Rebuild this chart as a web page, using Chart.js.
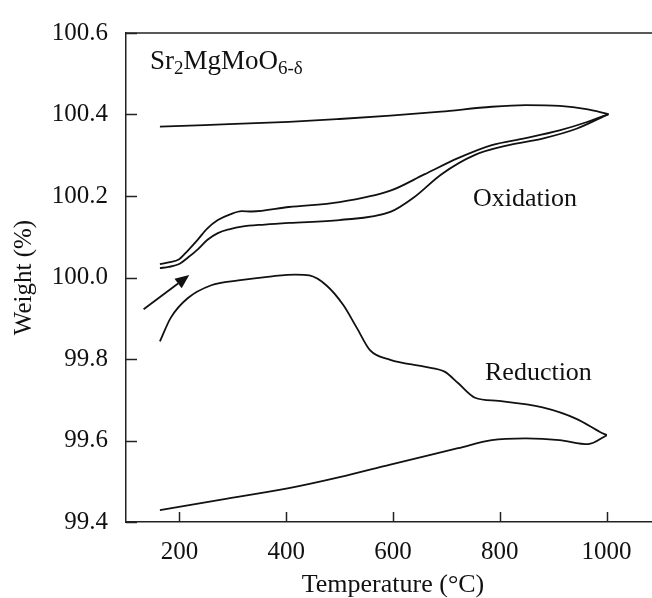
<!DOCTYPE html>
<html><head><meta charset="utf-8">
<script src="https://cdn.jsdelivr.net/npm/chart.js@4.4.0/dist/chart.umd.min.js"></script>
<style>
html,body{margin:0;padding:0;background:#fff;overflow:hidden;width:652px;height:598px}
#wrap{width:664px;height:598px}
</style>
</head><body><div id="wrap"><canvas id="c" width="664" height="598"></canvas></div>
<script>
// Tick values
const xTicks = [200, 400, 600, 800, 1000];
const yTicks = [99.4, 99.6, 99.8, 100.0, 100.2, 100.4, 100.6];

// Oxidation: cooling branch (top line)
const oxCoolT = [163.5, 247, 405, 500, 595, 690, 785, 848.5, 912, 962, 1003.5];
const oxCoolW = [100.370, 100.374, 100.382, 100.389, 100.397, 100.407, 100.419, 100.423, 100.421, 100.413, 100.401];

// Oxidation: heating, upper curve
const oxHeat1T = [163.5, 180, 199.6, 215, 234.5, 252, 272, 295, 316.7, 335.6, 405, 500, 595, 658.6, 721.8, 785, 848.5, 911.8, 962, 1003.5];
const oxHeat1W = [100.033, 100.037, 100.045, 100.065, 100.093, 100.120, 100.141, 100.155, 100.163, 100.162, 100.173, 100.185, 100.213, 100.253, 100.293, 100.325, 100.342, 100.361, 100.381, 100.401];

// Oxidation: heating, lower curve
const oxHeat2T = [163.5, 180, 199.6, 215, 234.5, 252, 272, 295, 316.7, 360, 405, 500, 595, 639.5, 690.3, 753.6, 816.9, 880, 943.5, 1003.5];
const oxHeat2W = [100.023, 100.026, 100.033, 100.048, 100.069, 100.092, 100.109, 100.119, 100.125, 100.130, 100.134, 100.141, 100.161, 100.197, 100.253, 100.301, 100.325, 100.341, 100.365, 100.401];

// Reduction: heating branch
const redHeatT = [163.5, 183.7, 215.4, 259.7, 310.3, 373.6, 418, 443.3, 475, 506.6, 532, 557.3, 595, 658.6, 696.5, 721.8, 753.6, 797.8, 880, 943.5, 987.6, 1000.4];
const redHeatW = [99.843, 99.901, 99.949, 99.981, 99.993, 100.003, 100.007, 100.005, 99.981, 99.933, 99.877, 99.821, 99.798, 99.781, 99.769, 99.741, 99.705, 99.697, 99.681, 99.653, 99.621, 99.613];

// Reduction: cooling branch (bottom line)
const redCoolT = [163.5, 278.7, 405, 500, 595, 721.8, 785, 848.5, 911.8, 965.5, 1000.4];
const redCoolW = [99.429, 99.455, 99.483, 99.510, 99.541, 99.581, 99.601, 99.605, 99.601, 99.591, 99.613];

// Arrow (tail -> tip)
const arrowT = [133, 218.5];
const arrowW = [99.922, 100.006];

const FF = '"Liberation Serif", "Times New Roman", Times, serif';
const INK = '#111';

function pts(T, W) { return T.map((t, i) => ({ x: t, y: W[i] })); }
function ds(T, W) {
  return { data: pts(T, W), borderColor: INK, borderWidth: 1.8, pointRadius: 0,
           cubicInterpolationMode: 'monotone', fill: false };
}

const deco = {
  id: 'deco',
  afterDatasetsDraw(chart) {
    const { ctx, chartArea: a, scales: { x, y } } = chart;
    ctx.save();
    ctx.strokeStyle = '#222';
    ctx.lineWidth = 1.5;
    ctx.beginPath(); ctx.moveTo(a.left, a.top); ctx.lineTo(a.right, a.top); ctx.stroke();
    xTicks.forEach(v => {
      const px = Math.round(x.getPixelForValue(v)) + 0.5;
      ctx.beginPath(); ctx.moveTo(px, a.bottom); ctx.lineTo(px, a.bottom - 10); ctx.stroke();
    });
    yTicks.forEach(v => {
      const py = Math.round(y.getPixelForValue(v)) + 0.5;
      ctx.beginPath(); ctx.moveTo(a.left, py); ctx.lineTo(a.left + 11, py); ctx.stroke();
    });
    // arrow
    const x0 = x.getPixelForValue(arrowT[0]), y0 = y.getPixelForValue(arrowW[0]);
    const x1 = x.getPixelForValue(arrowT[1]), y1 = y.getPixelForValue(arrowW[1]);
    const ang = Math.atan2(y1 - y0, x1 - x0), hl = 14, hw = 6;
    const bx = x1 - hl * Math.cos(ang), by = y1 - hl * Math.sin(ang);
    ctx.strokeStyle = INK; ctx.lineWidth = 1.8;
    ctx.beginPath(); ctx.moveTo(x0, y0); ctx.lineTo(bx, by); ctx.stroke();
    ctx.fillStyle = INK;
    ctx.beginPath(); ctx.moveTo(x1, y1);
    ctx.lineTo(bx - hw * Math.sin(ang), by + hw * Math.cos(ang));
    ctx.lineTo(bx + hw * Math.sin(ang), by - hw * Math.cos(ang));
    ctx.closePath(); ctx.fill();
    // texts
    ctx.fillStyle = INK; ctx.textAlign = 'left'; ctx.textBaseline = 'alphabetic';
    let tx = a.left + 24; const base = a.top + 36;
    function seg(t, size, dy) { ctx.font = size + 'px ' + FF; ctx.fillText(t, tx, base + dy); tx += ctx.measureText(t).width; }
    seg('Sr', 27, 0); seg('2', 19, 5); seg('MgMoO', 27, 0); seg('6-δ', 19, 5);
    ctx.font = '26px ' + FF;
    ctx.fillText('Oxidation', a.left + 347, a.top + 173);
    ctx.fillText('Reduction', a.left + 359, a.top + 347);
    ctx.restore();
  }
};

new Chart(document.getElementById('c'), {
  type: 'line',
  data: { datasets: [
    ds(oxCoolT, oxCoolW), ds(oxHeat1T, oxHeat1W), ds(oxHeat2T, oxHeat2W),
    ds(redHeatT, redHeatW), ds(redCoolT, redCoolW)
  ] },
  options: {
    responsive: false, animation: false, devicePixelRatio: 1,
    layout: { padding: { top: 22, right: 4, left: 0, bottom: 0 } },
    plugins: { legend: { display: false }, tooltip: { enabled: false } },
    scales: {
      x: {
        type: 'linear', min: 100, max: 1100,
        afterBuildTicks: s => { s.ticks = xTicks.map(v => ({ value: v })); },
        afterFit: s => { s.height = 76; },
        grid: { display: false, drawTicks: false },
        border: { display: true, color: '#222', width: 1.5 },
        ticks: { color: INK, font: { family: FF, size: 25 }, padding: 15, maxRotation: 0, autoSkip: false, callback: v => String(v) },
        title: { display: true, text: 'Temperature (°C)', color: INK, font: { family: FF, size: 26, lineHeight: 1 }, padding: { top: 0, bottom: 0 } }
      },
      y: {
        type: 'linear', min: 99.4, max: 100.6,
        afterBuildTicks: s => { s.ticks = yTicks.map(v => ({ value: v })); },
        afterFit: s => { s.width = 126; },
        grid: { display: false, drawTicks: false },
        border: { display: true, color: '#222', width: 1.5 },
        ticks: { color: INK, font: { family: FF, size: 25 }, padding: 18, autoSkip: false, callback: v => Number(v).toFixed(1) },
        title: { display: true, text: 'Weight (%)', color: INK, font: { family: FF, size: 25, lineHeight: 1 }, padding: { top: 12, bottom: 0 } }
      }
    }
  },
  plugins: [deco]
});
</script>
</body></html>
